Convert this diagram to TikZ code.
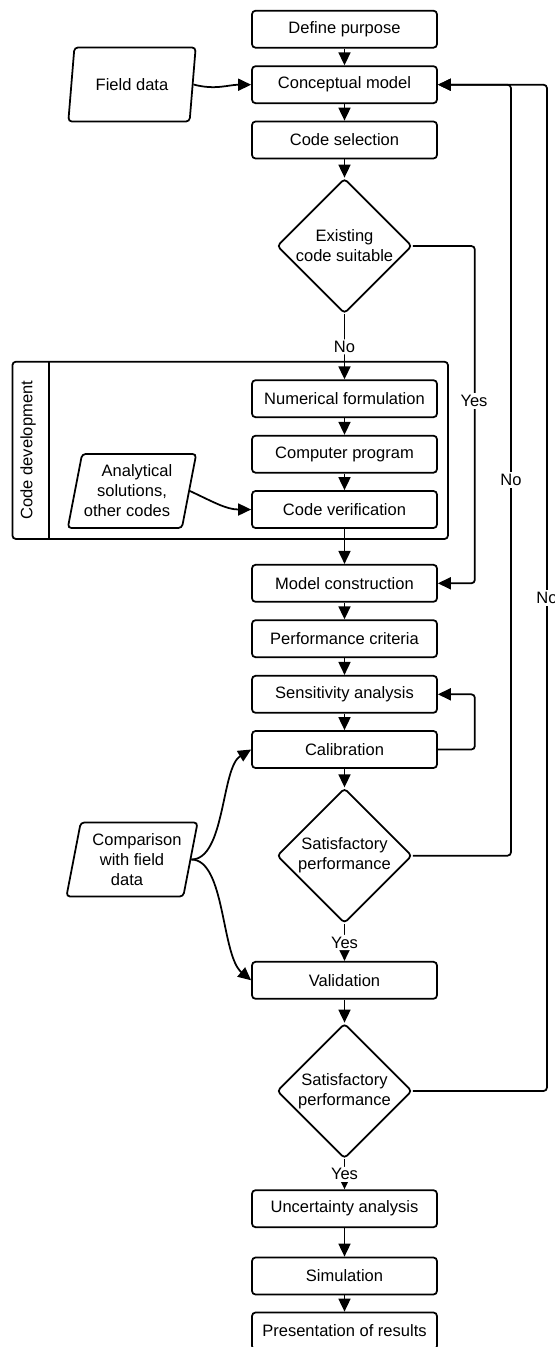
\documentclass[tikz,border=0pt]{standalone}
\usepackage{fontspec}
\setmainfont{Liberation Sans}
\usetikzlibrary{arrows.meta,shapes.geometric}

\tikzset{
  proc/.style={draw, rounded corners=2pt, minimum width=3.7cm, minimum height=0.74cm, inner sep=1pt},
  decide/.style={draw, diamond, aspect=1, minimum width=2.7cm, minimum height=2.7cm, inner sep=0pt, align=center, rounded corners=2pt},
  dataio/.style={draw, trapezium, trapezium left angle=75.6, trapezium right angle=104.4, trapezium stretches=true,
    minimum width=2.56cm, minimum height=1.48cm, align=center, rounded corners=2pt, inner sep=1pt},
  flow/.style={-{Triangle[length=0.26cm,width=0.24cm]}, rounded corners=2pt},
  lbl/.style={fill=white, inner sep=1pt},
}

\begin{document}
\begin{tikzpicture}[x=0.02cm, y=-0.02cm, line width=1pt, font=\fontsize{9.4}{11.4}\selectfont]
\useasboundingbox (0,0) rectangle (555,1347);

% code development frame
\draw[rounded corners=2pt] (12.4,361.7) rectangle (448,539);
\draw (49,361.7) -- (49,539);
\node[rotate=90] (devtitle) at (28,450.3) {Code development};

% main column
\node[proc] (define) at (344.5,29.2) {Define purpose};
\node[proc] (concept) at (344.5,84.7) {Conceptual model};
\node[proc] (codesel) at (344.5,140) {Code selection};
\node[decide] (suitable) at (344.5,246) {Existing\\code suitable};
\node[proc] (numform) at (344.5,398.7) {Numerical formulation};
\node[proc] (program) at (344.5,454.2) {Computer program};
\node[proc] (verify) at (344.5,509.5) {Code verification};
\node[proc] (construct) at (344.5,583.3) {Model construction};
\node[proc] (criteria) at (344.5,638.7) {Performance criteria};
\node[proc] (sensitivity) at (344.5,694.3) {Sensitivity analysis};
\node[proc] (calib) at (344.5,749.5) {Calibration};
\node[decide] (satisfy1) at (344.5,855.7) {Satisfactory\\performance};
\node[proc] (valid) at (344.5,980.3) {Validation};
\node[decide] (satisfy2) at (344.5,1091) {Satisfactory\\performance};
\node[proc] (uncert) at (344.5,1208.7) {Uncertainty analysis};
\node[proc] (simul) at (344.5,1276) {Simulation};
\node[proc] (present) at (344.5,1331) {Presentation of results};

% inputs
\node[dataio] (field) at (132,84.5) {Field data};
\node[dataio] (analytic) at (132,491) {\hspace*{0.2cm}Analytical\\solutions,\\other codes\hspace*{0.2cm}};
\node[dataio] (compare) at (132,859.5) {\hspace*{0.2cm}Comparison\\with field\\data\hspace*{0.2cm}};

% straight flow
\draw[flow] (define) -- (concept);
\draw[flow] (concept) -- (codesel);
\draw[flow] (codesel) -- (suitable);
\draw[flow] (suitable.south) -- (numform.north) node[lbl, pos=0.5] (no1) {No};
\draw[flow] (numform) -- (program);
\draw[flow] (program) -- (verify);
\draw[flow] (verify) -- (construct);
\draw[flow] (construct) -- (criteria);
\draw[flow] (criteria) -- (sensitivity);
\draw[flow] (sensitivity) -- (calib);
\draw[flow] (calib) -- (satisfy1);
\draw[flow] (satisfy1.south) -- (valid.north) node[lbl, pos=0.5] (yes2) {Yes};
\draw[flow] (valid) -- (satisfy2);
\draw[flow] (satisfy2.south) -- (uncert.north) node[lbl, pos=0.5] (yes3) {Yes};
\draw[flow] (uncert) -- (simul);
\draw[flow] (simul) -- (present);

% inputs into the column
\draw[flow] (field.east) to[out=-15,in=180] (concept.west);
\draw[flow] (analytic.east) to[out=-25,in=180] (verify.west);
\draw[flow] (compare.east) .. controls +(34,0) and +(-30,18) .. (calib.west);
\draw[flow] (compare.east) .. controls +(34,0) and +(-30,-25) .. (valid.west);

% side branches
\draw[flow] (suitable.east) -- ++(62,0) |- (construct.east);
\node[lbl] (yes1) at (474,401) {Yes};
\draw[flow] (calib.east) -- ++(37,0) |- (sensitivity.east);
\draw[flow] (satisfy1.east) -| (511,84.7) -- (concept.east);
\node[lbl] (no2) at (511,480) {No};
\draw[flow] (satisfy2.east) -| (547,84.7) -- (concept.east);
\node[lbl] (no3) at (547,598) {No};
\end{tikzpicture}
\end{document}
